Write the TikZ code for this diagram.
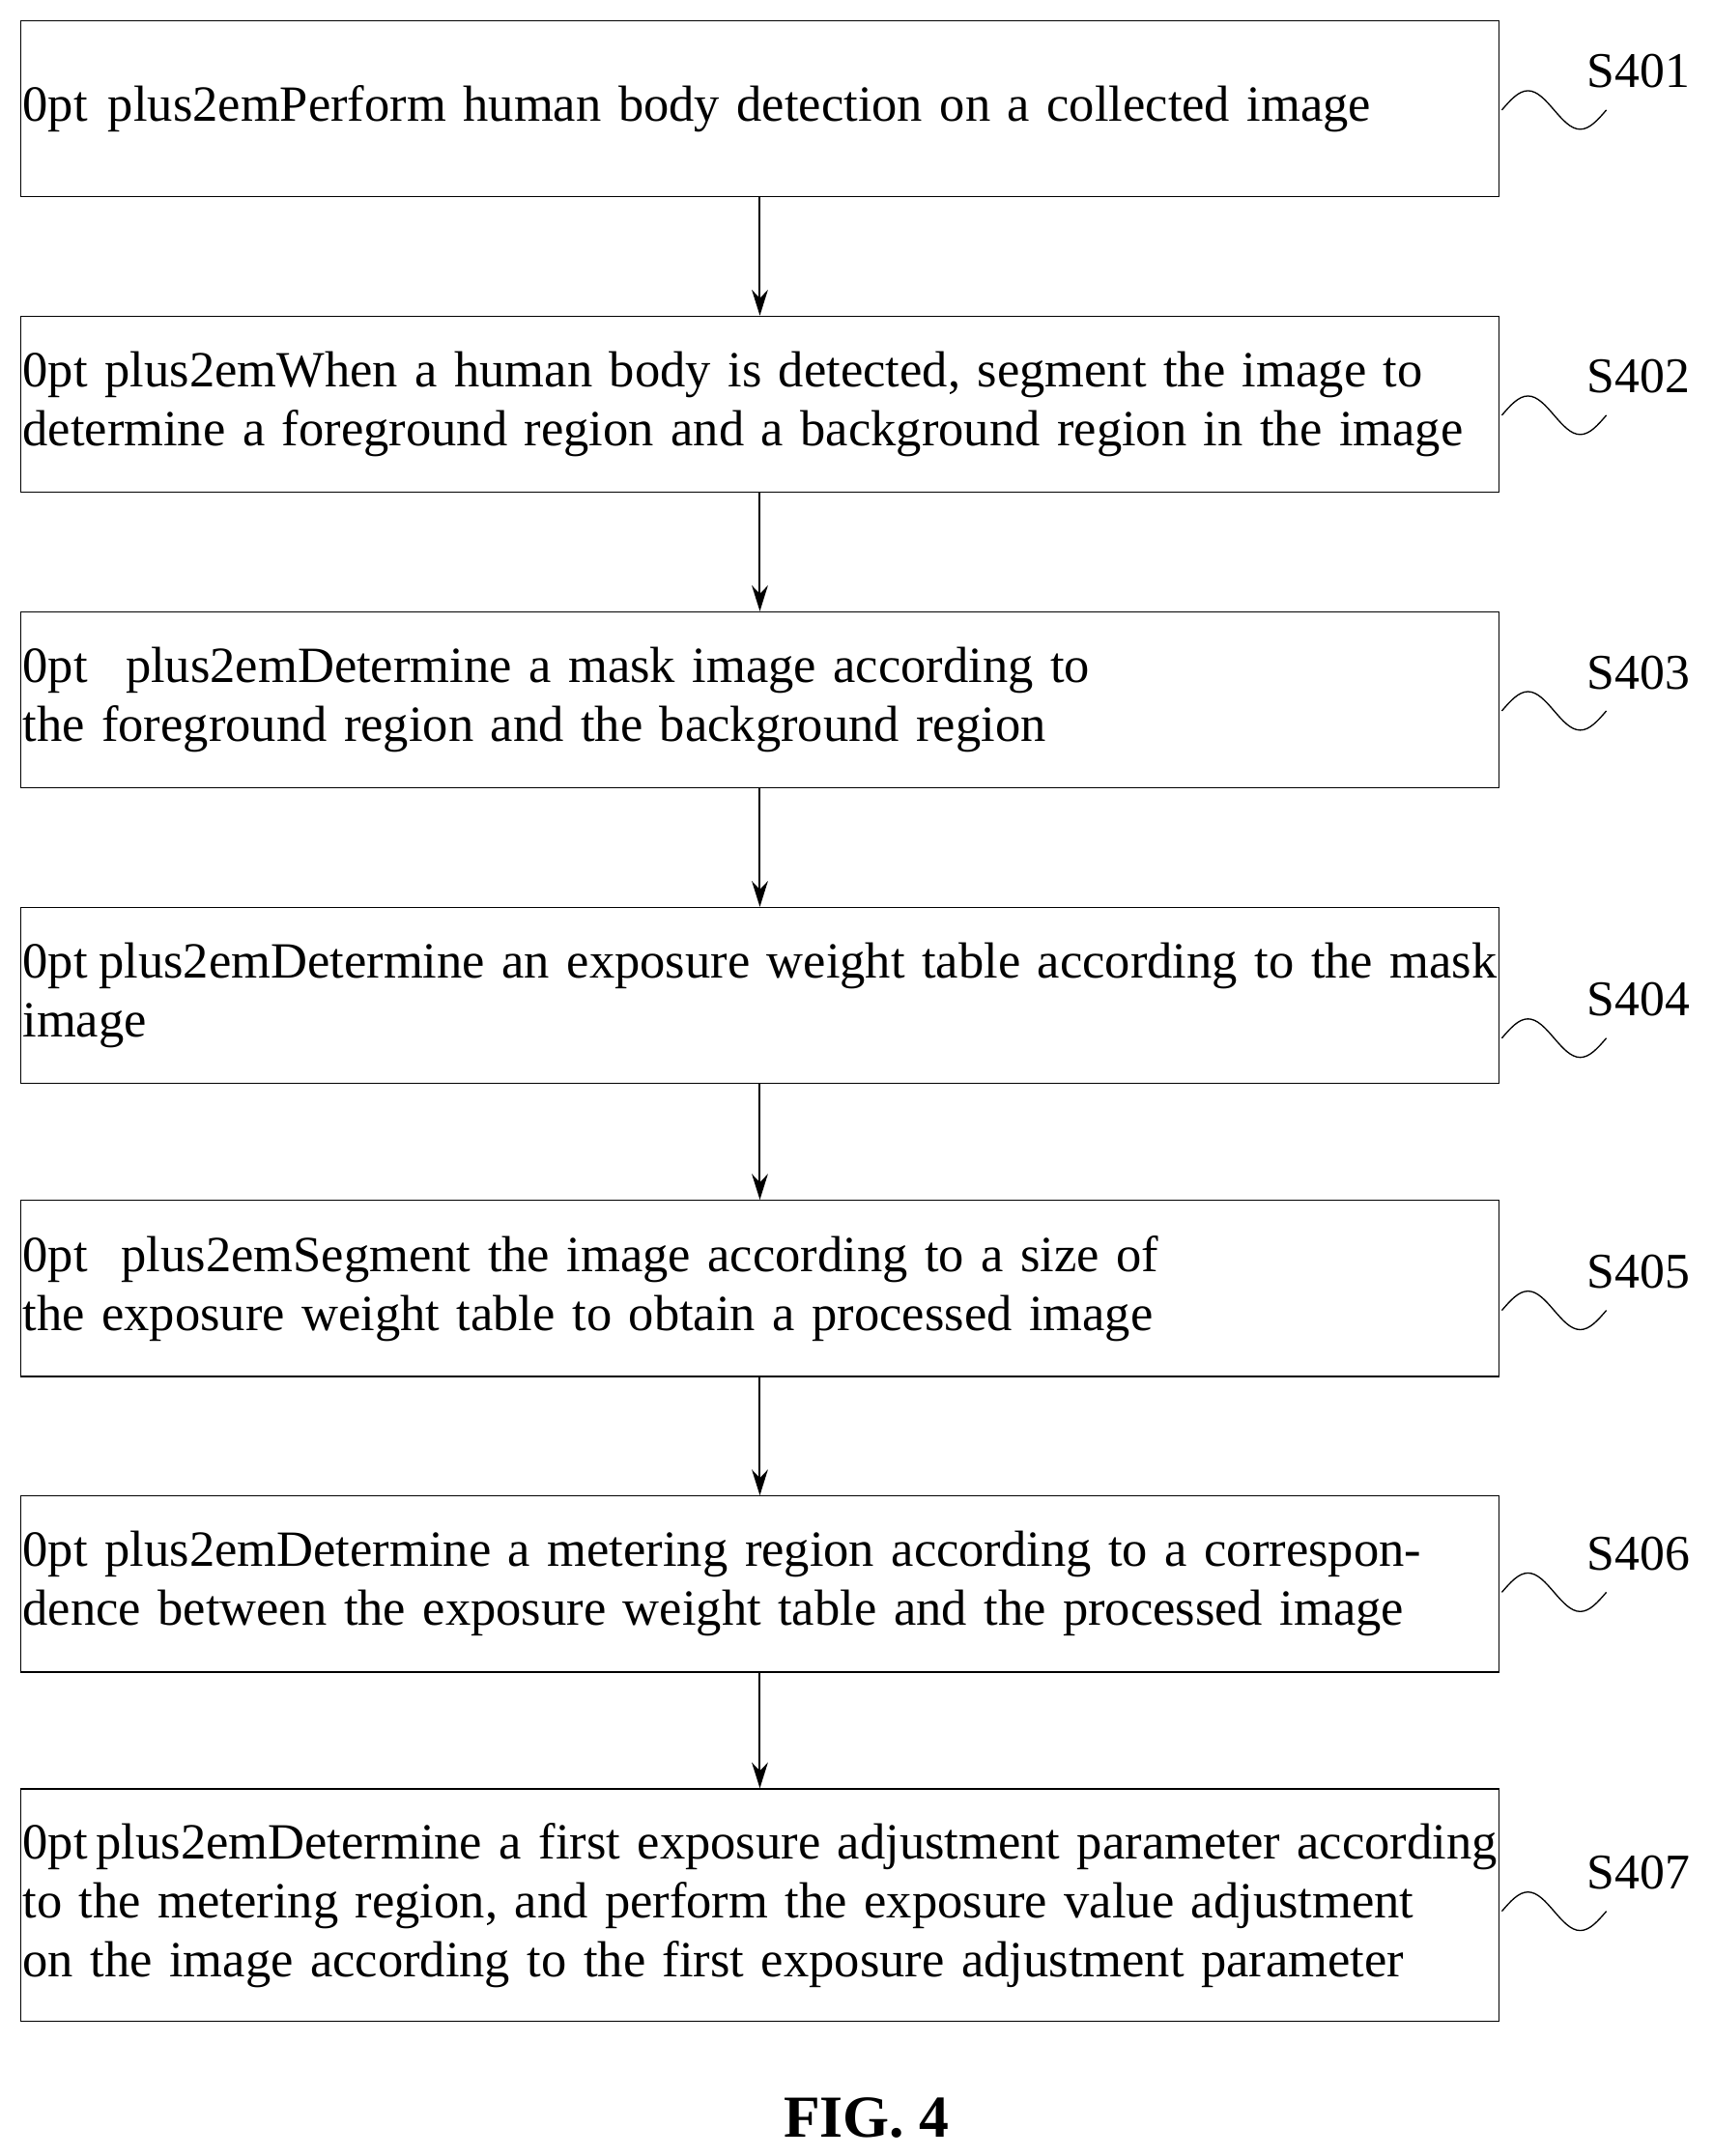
\documentclass[tikz,border=0pt]{standalone}
\usepackage{fontspec}
\setmainfont{Liberation Serif}
\usetikzlibrary{arrows.meta}
\tikzset{
  stepbox/.style={draw,thick,minimum width=1075*0.03cm,text width=1072*0.03cm,align=center,inner sep=0pt,font=\fontsize{31.5pt}{36.6pt}\selectfont\hyphenpenalty=10000\exhyphenpenalty=10000},
  tag/.style={anchor=west,font=\fontsize{31pt}{34pt}\selectfont},
  flow/.style={very thick,-{Stealth[length=16pt,width=10pt]}}
}
\begin{document}
\begin{tikzpicture}[x=0.03cm,y=-0.03cm]
                    \useasboundingbox (0,0) rectangle (1245,1568);
                    \node[stepbox,minimum height=128*0.03cm] (s1) at (552.5,79) {Perform human body detection on a collected image};
                    \node[stepbox,minimum height=128*0.03cm] (s2) at (552.5,294) {When a human body is detected, segment the image to determine a foreground region and a background region in the image};
                    \node[stepbox,minimum height=128*0.03cm] (s3) at (552.5,509) {Determine a mask image according to the foreground region and the background region};
                    \node[stepbox,minimum height=128*0.03cm] (s4) at (552.5,724) {Determine an exposure weight table according to the mask image};
                    \node[stepbox,minimum height=128*0.03cm] (s5) at (552.5,937) {Segment the image according to a size of the exposure weight table to obtain a processed image};
                    \node[stepbox,minimum height=128*0.03cm] (s6) at (552.5,1152) {Determine a metering region according to a correspondence between the exposure weight table and the processed image};
                    \node[stepbox,minimum height=169*0.03cm] (s7) at (552.5,1385.5) {Determine a first exposure adjustment parameter according to the metering region, and perform the exposure value adjustment on the image according to the first exposure adjustment parameter};
                    \draw[flow] (s1) -- (s2);
                    \draw[flow] (s2) -- (s3);
                    \draw[flow] (s3) -- (s4);
                    \draw[flow] (s4) -- (s5);
                    \draw[flow] (s5) -- (s6);
                    \draw[flow] (s6) -- (s7);
                    \node[tag] (t1) at (1150,52) {S401};
                    \node[tag] (t2) at (1150,274) {S402};
                    \node[tag] (t3) at (1150,489) {S403};
                    \node[tag] (t4) at (1150,727) {S404};
                    \node[tag] (t5) at (1150,925) {S405};
                    \node[tag] (t6) at (1150,1130) {S406};
                    \node[tag] (t7) at (1150,1362) {S407};
                    % wiggles
                    \foreach \y in {80,302,517,755,953,1158,1390}
                      \draw[thick] (1092,\y) sin ++(19,-14) cos ++(19,14) sin ++(19,14) cos ++(19,-14);
                    \node[font=\bfseries\fontsize{37pt}{40pt}\selectfont] (fig) at (630,1540) {FIG. 4};
            \end{tikzpicture}
\end{document}
